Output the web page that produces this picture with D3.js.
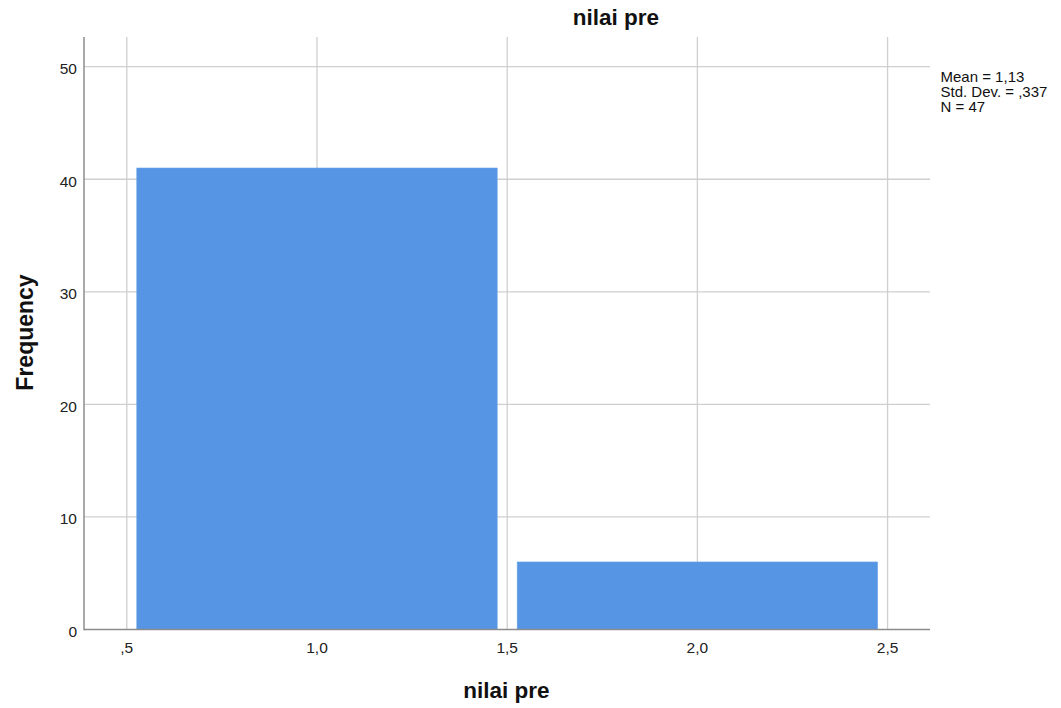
<!DOCTYPE html>
<html><head><meta charset="utf-8">
<script src="https://cdn.jsdelivr.net/npm/d3@7"></script>
<style>body{margin:0;background:#fff}svg{display:block}text{font-family:"Liberation Sans",Arial,sans-serif}</style>
</head><body><svg id="c" width="1061" height="708"></svg>
<script>
const binStarts = [0.5, 1.5];
const binEnds = [1.5, 2.5];
const frequencies = [41, 6];
const xTicks = [0.5, 1.0, 1.5, 2.0, 2.5];
const xTickLabels = [",5", "1,0", "1,5", "2,0", "2,5"];
const yTicks = [0, 10, 20, 30, 40, 50];
const statsLines = ["Mean = 1,13", "Std. Dev. = ,337", "N = 47"];
const chartTitle = "nilai pre";
const xTitle = "nilai pre";
const yTitle = "Frequency";

const svg = d3.select("#c");
const pL = 84, pR = 930, pT = 37, pB = 629.5;
const x = d3.scaleLinear().domain([0.3875, 2.6115]).range([pL, pR]);
const y = d3.scaleLinear().domain([0, 52.64]).range([pB, pT]);

// grid
svg.append("g").selectAll("line").data(yTicks.filter(d=>d>0)).join("line")
  .attr("x1", pL).attr("x2", pR).attr("y1", d=>y(d)).attr("y2", d=>y(d))
  .attr("stroke", "#cfcfcf").attr("stroke-width", 1.3);
svg.append("g").selectAll("line").data(xTicks).join("line")
  .attr("x1", d=>x(d)).attr("x2", d=>x(d)).attr("y1", pT).attr("y2", pB)
  .attr("stroke", "#cfcfcf").attr("stroke-width", 1.3);

// bars
const inset = 10;
svg.append("g").selectAll("rect").data(frequencies).join("rect")
  .attr("x", (d,i)=>x(binStarts[i]) + inset)
  .attr("width", (d,i)=>x(binEnds[i]) - x(binStarts[i]) - 2*inset)
  .attr("y", d=>y(d)).attr("height", d=>y(0)-y(d))
  .attr("fill", "#5595e3").attr("stroke", "#6aa3e8").attr("stroke-width", 0.6);

// axes lines
svg.append("line").attr("x1", pL).attr("x2", pL).attr("y1", pT).attr("y2", pB+0.7)
  .attr("stroke", "#8c8c8c").attr("stroke-width", 1.5);
svg.append("line").attr("x1", pL).attr("x2", pR).attr("y1", pB).attr("y2", pB)
  .attr("stroke", "#8c8c8c").attr("stroke-width", 1.5);

// tick labels
svg.append("g").selectAll("text").data(yTicks).join("text")
  .attr("x", 77).attr("y", d=>y(d)+7.5).attr("text-anchor", "end")
  .attr("font-size", 15.5).attr("fill", "#222").text(d=>d);
svg.append("g").selectAll("text").data(xTicks).join("text")
  .attr("x", d=>x(d)).attr("y", 653).attr("text-anchor", "middle")
  .attr("font-size", 15.5).attr("fill", "#222").text((d,i)=>xTickLabels[i]);

// titles
svg.append("text").attr("x", 616).attr("y", 25).attr("text-anchor", "middle")
  .attr("font-size", 22.5).attr("font-weight", "bold").attr("fill", "#111").text(chartTitle);
svg.append("text").attr("x", 506.5).attr("y", 698).attr("text-anchor", "middle")
  .attr("font-size", 22.5).attr("font-weight", "bold").attr("fill", "#111").text(xTitle);
svg.append("text").attr("transform", "translate(33,332.5) rotate(-90)").attr("text-anchor", "middle")
  .attr("font-size", 23).attr("font-weight", "bold").attr("fill", "#111").text(yTitle);

// stats
svg.append("g").selectAll("text").data(statsLines).join("text")
  .attr("x", 940.5).attr("y", (d,i)=>81.7 + i*15)
  .attr("font-size", 15).attr("fill", "#111").text(d=>d);
</script></body></html>
